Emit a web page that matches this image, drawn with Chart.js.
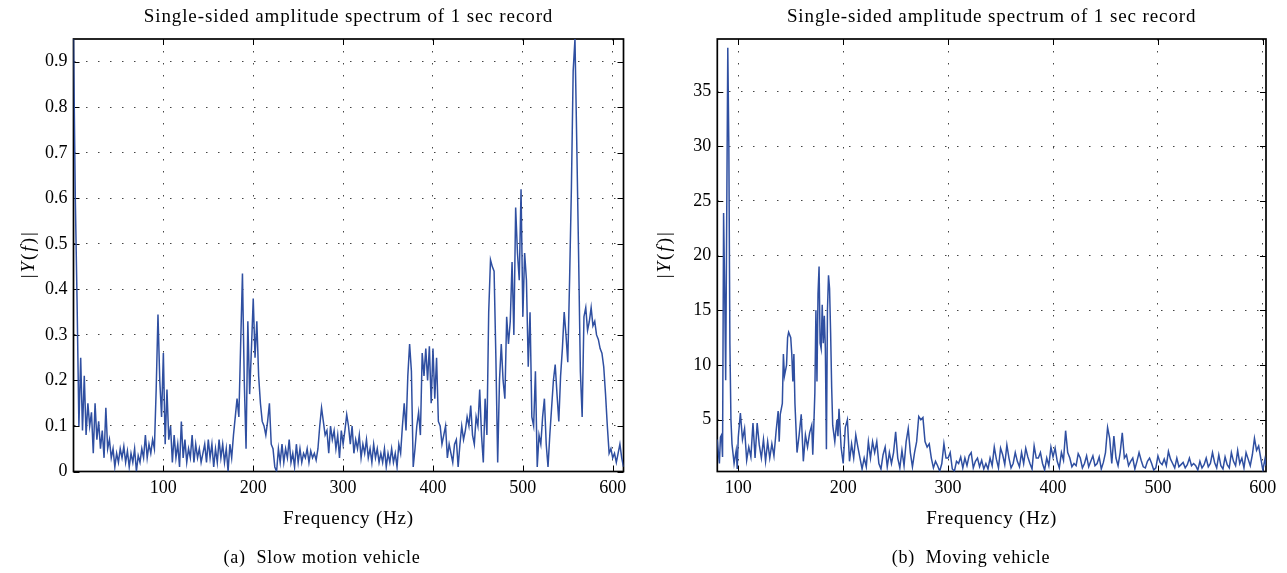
<!DOCTYPE html>
<html>
<head>
<meta charset="utf-8">
<script src="https://cdn.jsdelivr.net/npm/chart.js"></script>
<style>
body{margin:0;background:#fff;width:1287px;height:573px;overflow:hidden;position:relative;font-family:"Liberation Serif",serif;color:#000;}
canvas{position:absolute;top:0;}
#chartA{left:0;}
#chartB{left:640px;}
.caption{position:absolute;top:546px;font-size:18px;line-height:22px;letter-spacing:0.8px;text-align:center;white-space:pre;}
#capA{left:122px;width:400px;}
#capB{left:771px;width:400px;}
</style>
</head>
<body>
<canvas id="chartA" width="640" height="573"></canvas>
<canvas id="chartB" width="647" height="573"></canvas>
<div class="caption" id="capA">(a)  Slow motion vehicle</div>
<div class="caption" id="capB">(b)  Moving vehicle</div>
<script>
// DATI ----------------------------------------------------
var titleText = 'Single-sided amplitude spectrum of 1 sec record';
var xTitle = 'Frequency (Hz)';

// grafico (a) slow motion vehicle
var freqA = [
  0,2,4,6,8,10,12,14,16,18,
  20,22,24,26,28,30,32,34,36,38,
  40,42,44,46,48,50,52,54,56,58,
  60,62,64,66,68,70,72,74,76,78,
  80,82,84,86,88,90,92,94,96,98,
  100,102,104,106,108,110,112,114,116,118,
  120,122,124,126,128,130,132,134,136,138,
  140,142,144,146,148,150,152,154,156,158,
  160,162,164,166,168,170,172,174,176,178,
  180,182,184,186,188,190,192,194,196,198,
  200,202,204,206,208,210,212,214,216,218,
  220,222,224,226,228,230,232,234,236,238,
  240,242,244,246,248,250,252,254,256,258,
  260,262,264,266,268,270,272,274,276,278,
  280,282,284,286,288,290,292,294,296,298,
  300,302,304,306,308,310,312,314,316,318,
  320,322,324,326,328,330,332,334,336,338,
  340,342,344,346,348,350,352,354,356,358,
  360,362,364,366,368,370,372,374,376,378,
  380,382,384,386,388,390,392,394,396,398,
  400,402,404,406,408,410,412,414,416,418,
  420,422,424,426,428,430,432,434,436,438,
  440,442,444,446,448,450,452,454,456,458,
  460,462,464,466,468,470,472,474,476,478,
  480,482,484,486,488,490,492,494,496,498,
  500,502,504,506,508,510,512,514,516,518,
  520,522,524,526,528,530,532,534,536,538,
  540,542,544,546,548,550,552,554,556,558,
  560,562,564,566,568,570,572,574,576,578,
  580,582,584,586,588,590,592,594,596,598,
  600,602,604,606,608,610,612
];
var ampA = [
  0.95,0.60,0.37,0.10,0.25,0.09,0.21,0.08,0.15,0.10,
  0.13,0.04,0.15,0.07,0.11,0.05,0.09,0.03,0.14,0.05,
  0.07,0.03,0.05,0.01,0.04,0.02,0.05,0.03,0.055,0.02,
  0.045,0.01,0.04,0.02,0.05,0.00,0.035,0.02,0.05,0.03,
  0.08,0.03,0.06,0.04,0.07,0.05,0.18,0.345,0.20,0.12,
  0.26,0.06,0.18,0.07,0.10,0.02,0.08,0.03,0.06,0.01,
  0.11,0.03,0.07,0.02,0.05,0.03,0.08,0.02,0.06,0.03,
  0.05,0.02,0.04,0.06,0.02,0.07,0.03,0.06,0.01,0.05,
  0.02,0.07,0.03,0.06,0.02,0.05,0.00,0.06,0.03,0.08,
  0.12,0.16,0.12,0.28,0.435,0.20,0.05,0.33,0.17,0.27,
  0.38,0.25,0.33,0.21,0.15,0.11,0.10,0.08,0.11,0.15,
  0.06,0.05,0.01,0.00,0.05,0.02,0.06,0.02,0.05,0.03,
  0.07,0.02,0.04,0.01,0.06,0.02,0.05,0.02,0.04,0.03,
  0.05,0.02,0.045,0.03,0.04,0.025,0.05,0.10,0.14,0.11,
  0.08,0.09,0.04,0.10,0.07,0.09,0.05,0.08,0.03,0.09,
  0.06,0.09,0.125,0.10,0.06,0.10,0.04,0.07,0.05,0.08,
  0.03,0.06,0.04,0.07,0.03,0.05,0.02,0.06,0.03,0.05,
  0.02,0.04,0.02,0.05,0.01,0.04,0.02,0.05,0.02,0.04,
  0.01,0.06,0.04,0.10,0.15,0.09,0.21,0.28,0.22,0.01,
  0.05,0.10,0.13,0.08,0.26,0.21,0.27,0.20,0.275,0.15,
  0.27,0.16,0.25,0.11,0.10,0.06,0.08,0.10,0.03,0.06,
  0.04,0.02,0.06,0.07,0.01,0.06,0.10,0.07,0.09,0.12,
  0.10,0.145,0.08,0.06,0.12,0.10,0.18,0.08,0.02,0.16,
  0.08,0.35,0.465,0.45,0.44,0.25,0.02,0.20,0.28,0.20,
  0.16,0.34,0.28,0.33,0.46,0.30,0.58,0.48,0.42,0.62,
  0.34,0.48,0.42,0.23,0.35,0.12,0.10,0.22,0.01,0.08,
  0.06,0.12,0.16,0.06,0.01,0.08,0.14,0.20,0.235,0.17,
  0.11,0.21,0.27,0.35,0.30,0.24,0.42,0.62,0.88,0.95,
  0.72,0.48,0.22,0.12,0.34,0.36,0.31,0.33,0.36,0.32,
  0.33,0.30,0.29,0.27,0.26,0.23,0.17,0.10,0.04,0.05,
  0.03,0.04,0.02,0.04,0.06,0.03,0.01
];
var xTicksA = [100,200,300,400,500,600];
var yTicksA = [0,0.1,0.2,0.3,0.4,0.5,0.6,0.7,0.8,0.9];
var yLabelsA = ['0','0.1','0.2','0.3','0.4','0.5','0.6','0.7','0.8','0.9'];

// grafico (b) moving vehicle
var freqB = [
  80,81,82,83,84,85,86,87,88,89,
  90,91,92,93,94,96,98,99,100,102,
  104,106,108,110,112,114,116,118,120,122,
  124,126,128,130,132,134,136,138,139,140,
  142,143,144,146,147,148,150,151,152,153,
  154,156,158,160,162,164,166,168,170,171,
  172,173,174,175,176,177,178,179,180,181,
  182,183,184,185,186,187,188,189,190,192,
  194,195,196,198,200,202,204,206,208,210,
  212,214,216,218,220,222,224,226,228,230,
  232,234,236,238,240,242,244,246,248,250,
  252,254,256,258,260,262,264,266,268,270,
  272,274,276,278,280,282,284,286,288,290,
  292,294,296,298,300,302,304,306,308,310,
  312,314,316,318,320,322,324,326,328,330,
  332,334,336,338,340,342,344,346,348,350,
  352,354,356,358,360,362,364,366,368,370,
  372,374,376,378,380,382,384,386,388,390,
  392,394,396,398,400,402,404,406,408,410,
  412,414,416,418,420,422,424,426,428,430,
  432,434,436,438,440,442,444,446,448,450,
  452,454,456,458,460,462,464,466,468,470,
  472,474,476,478,480,482,484,486,488,490,
  492,494,496,498,500,502,504,506,508,510,
  512,514,516,518,520,522,524,526,528,530,
  532,534,536,538,540,542,544,546,548,550,
  552,554,556,558,560,562,564,566,568,570,
  572,574,576,578,580,582,584,586,588,590,
  592,594,596,598,600,602,603
];
var ampB = [
  3.2,2.0,1.0,3.4,3.6,1.6,23.9,17.0,8.6,24.0,
  39.0,30.0,12.0,5.0,2.8,1.0,2.2,0.5,3.4,5.6,
  3.2,4.2,1.3,2.5,1.6,4.7,1.5,4.7,2.7,1.5,
  3.2,1.2,3.0,1.5,2.8,1.7,3.9,5.8,3.0,5.5,
  6.5,11.0,9.0,10.0,12.5,13.0,12.5,11.0,8.5,11.0,
  6.5,2.0,3.6,5.5,1.2,3.6,2.5,3.8,4.5,1.8,
  4.5,7.5,15.0,8.5,16.5,19.0,12.0,11.5,15.5,12.0,
  14.5,11.5,2.3,15.0,18.2,17.0,13.0,8.0,4.5,3.0,
  5.0,3.5,6.0,2.5,1.0,4.3,5.0,1.2,2.8,1.5,
  3.6,2.5,1.5,0.5,1.5,0.7,3.0,1.5,3.0,2.0,
  3.0,1.0,0.5,1.8,2.5,0.7,2.0,1.0,2.0,3.9,
  1.5,0.6,2.2,0.8,3.0,4.2,2.0,0.7,2.0,3.0,
  5.3,5.0,5.2,3.0,2.5,2.8,1.5,0.6,1.2,0.8,
  0.3,1.0,2.8,1.5,1.5,2.0,0.5,0.3,1.2,1.0,
  1.6,0.6,1.5,0.8,1.7,2.0,0.6,1.2,1.5,0.7,
  1.3,0.5,1.0,0.5,1.5,0.8,2.5,1.4,0.6,2.4,
  1.8,0.9,2.7,1.5,0.6,1.0,2.0,1.2,0.7,2.0,
  1.0,2.4,1.6,1.0,0.5,2.6,1.5,1.5,2.0,1.0,
  0.4,1.5,0.8,2.5,1.6,2.4,1.2,0.6,2.0,1.3,
  4.0,2.0,1.5,0.7,1.0,0.8,1.9,1.5,0.6,1.0,
  1.7,0.7,1.2,1.7,0.8,1.0,1.6,0.5,1.1,2.0,
  4.3,3.3,1.0,3.5,1.5,0.8,2.0,3.8,1.5,1.8,
  0.8,1.2,1.5,0.5,1.2,2.0,1.3,0.7,0.6,1.2,
  1.5,1.0,0.4,0.6,1.7,1.1,0.9,1.4,0.8,2.1,
  1.4,1.0,0.6,1.5,0.7,0.9,1.1,0.6,0.9,1.5,
  0.8,1.0,0.8,0.4,1.2,0.6,0.9,1.5,0.7,1.0,
  2.0,1.1,0.6,1.8,0.8,0.5,1.6,0.9,0.6,2.0,
  1.2,0.8,2.2,1.0,1.5,0.6,2.0,1.4,0.8,1.8,
  3.3,2.2,2.6,1.5,0.4,1.4,0.8
];
var xTicksB = [100,200,300,400,500,600];
var yTicksB = [5,10,15,20,25,30,35];
var yLabelsB = ['5','10','15','20','25','30','35'];

// STILI ---------------------------------------------------
var serif = '"Liberation Serif", "Times New Roman", serif';
var lineColor = '#2f4fa1';

// disegna cornice, tacche interne e testi (titolo, etichette assi)
var framePlugin = {
  id: 'frame',
  beforeDatasetsDraw: function(chart){
    var a = chart.chartArea, ctx = chart.ctx;
    var xs = chart.scales.x, ys = chart.scales.y;
    ctx.save();
    ctx.strokeStyle = '#000';
    ctx.lineWidth = 1;
    ctx.beginPath();
    xs.ticks.forEach(function(t){
      var px = Math.round(xs.getPixelForValue(t.value)) + 0.5;
      ctx.moveTo(px, a.bottom); ctx.lineTo(px, a.bottom - 6);
      ctx.moveTo(px, a.top); ctx.lineTo(px, a.top + 6);
    });
    ys.ticks.forEach(function(t){
      var py = Math.round(ys.getPixelForValue(t.value)) + 0.5;
      ctx.moveTo(a.left, py); ctx.lineTo(a.left + 6, py);
      ctx.moveTo(a.right, py); ctx.lineTo(a.right - 6, py);
    });
    ctx.stroke();
    ctx.lineWidth = 1.7;
    ctx.strokeRect(a.left, a.top, a.right - a.left, a.bottom - a.top);
    ctx.restore();
  },
  afterDraw: function(chart){
    var a = chart.chartArea, ctx = chart.ctx;
    var cx = (a.left + a.right) / 2;
    var o = chart.options.plugins.frame;
    ctx.save();
    ctx.fillStyle = '#000';
    ctx.textBaseline = 'middle';
    ctx.textAlign = 'center';
    ctx.letterSpacing = '0.9px';
    ctx.font = '19px ' + serif;
    ctx.fillText(titleText, cx, 17);
    ctx.letterSpacing = '0.8px';
    ctx.fillText(xTitle, cx, 519);
    // |Y(f)| ruotato, con Y e f in corsivo
    var parts = [['|', ''], ['Y', 'italic '], ['(', ''], ['f', 'italic '], [')', ''], ['|', '']];
    var gap = 2, total = 0, w = [];
    ctx.letterSpacing = '0px';
    parts.forEach(function(p){
      ctx.font = p[1] + '19px ' + serif;
      var m = ctx.measureText(p[0]).width;
      w.push(m); total += m;
    });
    total += gap * (parts.length - 1);
    ctx.translate(a.left - o.yTitleOffset, (a.top + a.bottom) / 2);
    ctx.rotate(-Math.PI / 2);
    ctx.textAlign = 'left';
    var x = -total / 2;
    parts.forEach(function(p, i){
      ctx.font = p[1] + '19px ' + serif;
      ctx.fillText(p[0], x, 0);
      x += w[i] + gap;
    });
    ctx.restore();
  }
};

function creaGrafico(id, freqs, amps, xMin, xMax, yMin, yMax, xTicks, yTicks, yLabels, yWidth, padRight, yTitleOffset){
  var punti = freqs.map(function(f, i){ return {x: f, y: amps[i]}; });
  var tickFont = {family: serif, size: 18};
  return new Chart(document.getElementById(id), {
    type: 'line',
    data: {
      datasets: [{
        data: punti,
        borderColor: lineColor,
        borderWidth: 1.5,
        pointRadius: 0,
        tension: 0,
        fill: false
      }]
    },
    options: {
      responsive: false,
      animation: false,
      devicePixelRatio: 1,
      layout: {padding: {top: 39, right: padRight, bottom: 71.5, left: 0}},
      plugins: {
        legend: {display: false},
        tooltip: {enabled: false},
        frame: {yTitleOffset: yTitleOffset}
      },
      scales: {
        x: {
          type: 'linear',
          min: xMin,
          max: xMax,
          afterBuildTicks: function(s){ s.ticks = xTicks.map(function(v){ return {value: v}; }); },
          afterFit: function(s){ s.height = 30; },
          ticks: {font: tickFont, color: '#000', padding: 6, maxRotation: 0, autoSkip: false,
            callback: function(v){ return String(v); }},
          grid: {color: '#444', lineWidth: 1, drawTicks: false},
          border: {display: false, dash: [1.5, 10.5]}
        },
        y: {
          min: yMin,
          max: yMax,
          afterBuildTicks: function(s){ s.ticks = yTicks.map(function(v){ return {value: v}; }); },
          afterFit: function(s){ s.width = yWidth; },
          ticks: {font: tickFont, color: '#000', padding: 6, autoSkip: false,
            callback: function(v, i){ return yLabels[i]; }},
          grid: {color: '#444', lineWidth: 1, drawTicks: false},
          border: {display: false, dash: [1.5, 10.5]}
        }
      }
    },
    plugins: [framePlugin]
  });
}

// PRIMO GRAFICO
creaGrafico('chartA', freqA, ampA, 0, 612, 0, 0.95, xTicksA, yTicksA, yLabelsA, 73.5, 16.5, 44.5);
// SECONDO GRAFICO
creaGrafico('chartB', freqB, ampB, 80, 603, 0.27, 39.8, xTicksB, yTicksB, yLabelsB, 77.3, 21, 52);
</script>
</body>
</html>
